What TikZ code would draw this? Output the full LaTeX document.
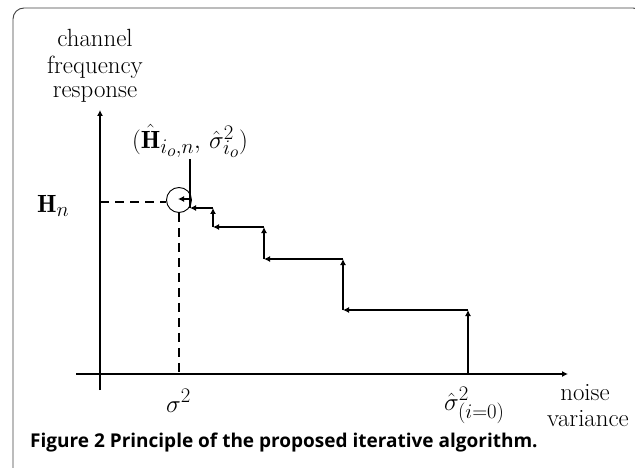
\documentclass[tikz,border=0pt]{standalone}
\usepackage{fontspec}
\newfontfamily\capfont{Open Sans}
\usetikzlibrary{arrows.meta}
\begin{document}
\begin{tikzpicture}[x=1pt,y=-1pt,
  axis/.style={line width=1.1pt,-{Latex[length=6pt,width=6pt]}},
  stair/.style={line width=1.2pt,-{Latex[length=6pt,width=6pt]}},
  plain/.style={line width=1.2pt},
  dashln/.style={line width=1.1pt,dash pattern=on 9pt off 6pt},
  lbl/.style={inner sep=0pt,font=\Huge},
  frame/.style={line width=0.9pt,draw=black!75,rounded corners=11pt}]
\useasboundingbox (0,0) rectangle (635,468);
\clip (0,0) rectangle (635,468);
% frame
\draw[frame] (13,490) -- (13,8) -- (644,8) -- (644,490);
% axis label texts
\node[lbl,anchor=base] (t1) at (95,47) {channel};
\node[lbl,anchor=base] (t2) at (95,74) {frequency};
\node[lbl,anchor=base] (t3) at (95,98) {response};
\node[lbl,anchor=base] (n1) at (585,400) {noise};
\node[lbl,anchor=base] (n2) at (588,426) {variance};
% axes
\coordinate (yb) at (100,390);
\coordinate (yt) at (100,110);
\coordinate (xl) at (76,374);
\coordinate (xr) at (568,374);
\draw[axis] (yb) -- (yt);
\draw[axis] (xl) -- (xr);
% labels
\node[lbl,anchor=base west] (hn) at (37,213) {$\mathbf{H}_n$};
\node[lbl] (est) at (190,141) {$(\hat{\mathbf{H}}_{i_o,n},\,\hat{\sigma}^2_{i_o})$};
\node[lbl,anchor=base west] (sig) at (166,412) {$\sigma^2$};
\node[lbl,anchor=base west] (sig0) at (444,410) {$\hat{\sigma}^2_{(i=0)}$};
% circle and dashed guides
\node[draw,circle,line width=0.9pt,minimum size=25pt,inner sep=0pt] (circ) at (179,200) {};
\coordinate (hy) at (100,202);
\coordinate (sx) at (179,374);
\draw[dashln] (hy) -- (circ.west |- hy);
\draw[dashln] (circ.south) -- (sx);
% staircase
\coordinate (s0) at (468,374);
\coordinate (s1) at (468,310);
\coordinate (s2) at (343,310);
\coordinate (s3) at (343,259);
\coordinate (s4) at (264,259);
\coordinate (s5) at (264,227);
\coordinate (s6) at (213,227);
\coordinate (s7) at (213,208);
\coordinate (s8) at (190,208);
\coordinate (s9) at (190,199);
\coordinate (s10) at (178,199);
\coordinate (p0) at (190,159);
\draw[stair] (s0) -- (s1);
\draw[stair] (s1) -- (s2);
\draw[stair] (s2) -- (s3);
\draw[stair] (s3) -- (s4);
\draw[stair] (s4) -- (s5);
\draw[stair] (s5) -- (s6);
\draw[stair] (s6) -- (s7);
\draw[stair] (s7) -- (s8);
\draw[plain] (p0) -- (s8);
\draw[stair] (s9) -- (s10);
% caption
\node[anchor=base west,inner sep=0pt,font=\capfont\bfseries\fontsize{19}{22}\selectfont] (cap) at (30,447) {Figure 2 Principle of the proposed iterative algorithm.};
\end{tikzpicture}
\end{document}
